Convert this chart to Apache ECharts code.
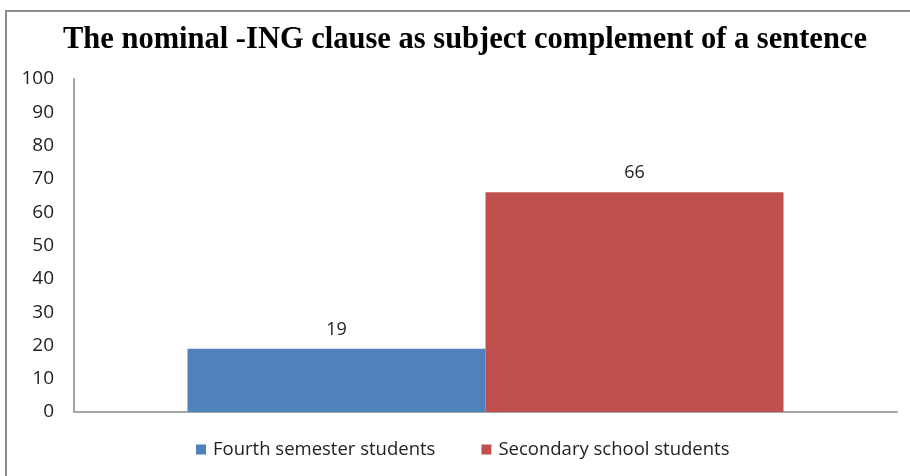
<!DOCTYPE html>
<html>
<head>
<meta charset="utf-8">
<script src="https://cdn.jsdelivr.net/npm/echarts@6/dist/echarts.min.js"></script>
<style>
  html, body { margin: 0; padding: 0; background: #fff; }
  #chart { width: 910px; height: 476px; }
</style>
</head>
<body>
<div id="chart"></div>
<script>
const titleText = 'The nominal -ING clause as subject complement of a sentence'
const categories = ['']
const seriesNames = ['Fourth semester students', 'Secondary school students']
const fourthSemester = [19]
const secondarySchool = [66]
const colors = ['#4f81bd', '#c0504d']

const chart = echarts.init(document.getElementById('chart'))

const labelStyle = {
  show: true,
  position: 'top',
  distance: 10,
  color: '#222',
  fontSize: 18,
  fontFamily: 'Open Sans',
}

chart.setOption({
  animation: false,
  color: colors,
  title: {
    text: titleText,
    left: 58,
    top: 20,
    textStyle: {
      fontFamily: 'Liberation Serif',
      fontWeight: 'bold',
      fontSize: 30.5,
      color: '#000',
    },
  },
  graphic: [{
    type: 'rect',
    shape: { x: 6, y: 11, width: 1000, height: 1000 },
    style: { fill: 'none', stroke: '#8c8c8c', lineWidth: 2 },
    silent: true,
  }],
  legend: {
    bottom: 12,
    left: 191,
    itemWidth: 10,
    itemHeight: 10,
    itemGap: 46,
    icon: 'rect',
    textStyle: { fontFamily: 'Open Sans', fontSize: 18.5, color: '#222', padding: [0, 0, 0, 2] },
    data: seriesNames,
  },
  grid: { left: 74, right: 13, top: 79, bottom: 64 },
  xAxis: {
    type: 'category',
    data: categories,
    axisLine: { lineStyle: { color: '#a6a6a6', width: 2 } },
    axisTick: { show: false },
    axisLabel: { show: false },
  },
  yAxis: {
    type: 'value',
    min: 0,
    max: 100,
    interval: 10,
    axisLine: { show: true, lineStyle: { color: '#a6a6a6', width: 2 } },
    axisTick: { show: false },
    splitLine: { show: false },
    axisLabel: { fontFamily: 'Open Sans', fontSize: 19, color: '#222', margin: 20 },
  },
  series: [
    {
      name: seriesNames[0],
      type: 'bar',
      data: fourthSemester,
      barWidth: 298,
      barGap: 0,
      label: labelStyle,
    },
    {
      name: seriesNames[1],
      type: 'bar',
      data: secondarySchool,
      barWidth: 298,
      barGap: 0,
      label: labelStyle,
    },
  ],
})
</script>
</body>
</html>
